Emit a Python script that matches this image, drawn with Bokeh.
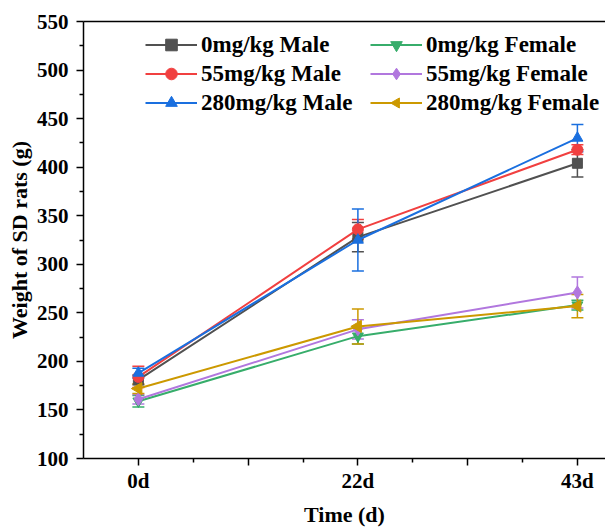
import math
from bokeh.plotting import figure
from bokeh.models import (Range1d, FixedTicker, LinearAxis, Legend, LegendItem,
                          Whisker, ColumnDataSource, TeeHead)
from bokeh.embed import file_html
from bokeh.resources import INLINE

# ---- data ----
day_pos = [1, 2, 3]
day_labels = ["0d", "22d", "43d"]

names = ["0mg/kg Male", "55mg/kg Male", "280mg/kg Male",
         "0mg/kg Female", "55mg/kg Female", "280mg/kg Female"]

male_0 = [181, 328, 404]
male_0_err = [5, 15, 14]
male_55 = [184, 336, 418]
male_55_err = [11, 10, 5]
male_280 = [188, 325, 430]
male_280_err = [5, 32, 14]
female_0 = [159, 226, 258]
female_0_err = [6, 8, 5]
female_55 = [161, 233, 271]
female_55_err = [5, 10, 16]
female_280 = [172, 236, 257]
female_280_err = [5, 18, 12]

values = [male_0, male_55, male_280, female_0, female_55, female_280]
errors = [male_0_err, male_55_err, male_280_err, female_0_err, female_55_err, female_280_err]

colors = ["#515151", "#F14040", "#1A6FDF", "#37AD6B", "#B177DE", "#CC9900"]
markers = ["square", "circle", "triangle", "inverted_triangle", "diamond", "left_triangle"]
sizes = [10, 11, 11, 11, 13, 11]

FONT = "Liberation Serif"

p = figure(width=605, height=529, output_backend="svg", toolbar_location=None,
           x_range=Range1d(0.75, 3.128), y_range=Range1d(100, 550),
           min_border_left=83, min_border_right=0, min_border_top=21,
           min_border_bottom=69)
p.outline_line_color = None
p.xgrid.visible = False
p.ygrid.visible = False
p.background_fill_color = "white"

# axes styling
xa = p.xaxis[0]
xa.ticker = FixedTicker(ticks=[1, 1.5, 2, 2.5, 3], minor_ticks=[1.25, 1.75, 2.25, 2.75])
xa.major_label_overrides = {1: day_labels[0], 1.5: "", 2: day_labels[1], 2.5: "", 3: day_labels[2]}
xa.axis_label = "Time (d)"

ya = p.yaxis[0]
ya.ticker = FixedTicker(ticks=list(range(100, 551, 50)), minor_ticks=list(range(125, 550, 50)))
ya.axis_label = "Weight of SD rats (g)"

for ax in (xa, ya):
    ax.axis_line_width = 1.5
    ax.axis_line_color = "black"
    ax.major_tick_line_width = 1.5
    ax.minor_tick_line_width = 1.5
    ax.major_tick_line_color = "black"
    ax.minor_tick_line_color = "black"
    ax.major_tick_in = 0
    ax.major_tick_out = 7
    ax.minor_tick_in = 0
    ax.minor_tick_out = 4
    ax.major_label_text_font = FONT
    ax.major_label_text_font_style = "bold"
    ax.major_label_text_font_size = "21px"
    ax.major_label_text_color = "black"
    ax.axis_label_text_font = FONT
    ax.axis_label_text_font_style = "bold"
    ax.axis_label_text_font_size = "22px"
    ax.axis_label_text_color = "black"
xa.major_label_standoff = 3
xa.axis_label_standoff = 6
ya.major_label_standoff = 8
ya.axis_label_standoff = 2

top = LinearAxis(ticker=FixedTicker(ticks=[]), axis_line_width=1.5, axis_line_color="black",
                 major_label_text_font_size="0px")
p.add_layout(top, "above")

items_left = []
items_right = []
for i in range(6):
    vals = values[i]
    errs = errors[i]
    src = ColumnDataSource(dict(x=day_pos, y=vals,
                                lo=[v - e for v, e in zip(vals, errs)],
                                hi=[v + e for v, e in zip(vals, errs)]))
    w = Whisker(source=src, base="x", lower="lo", upper="hi", dimension="height",
                line_color=colors[i], line_width=1.5,
                upper_head=TeeHead(size=12, line_color=colors[i], line_width=1.5),
                lower_head=TeeHead(size=12, line_color=colors[i], line_width=1.5))
    p.add_layout(w)
    lr = p.line("x", "y", source=src, line_color=colors[i], line_width=2)
    if markers[i] == "left_triangle":
        try:
            sr = p.ngon("x", "y", source=src, radius=7, radius_units="screen", n=3,
                        angle=math.pi / 2, fill_color=colors[i], line_color=colors[i])
        except Exception:
            sr = p.scatter("x", "y", source=src, marker="triangle",
                           size=sizes[i], fill_color=colors[i], line_color=colors[i])
    else:
        sr = p.scatter("x", "y", source=src, marker=markers[i],
                       size=sizes[i], fill_color=colors[i], line_color=colors[i])
    item = LegendItem(label=names[i], renderers=[lr, sr])
    (items_left if i < 3 else items_right).append(item)

for items, loc in ((items_left, (62, 341)), (items_right, (287, 341))):
    lg = Legend(items=items, location=loc, border_line_color=None,
                background_fill_alpha=0, padding=0, margin=0, spacing=0,
                glyph_width=52, glyph_height=29, label_height=29,
                label_standoff=4,
                label_text_font=FONT, label_text_font_style="bold",
                label_text_font_size="23px", label_text_color="black")
    p.add_layout(lg, "center")

open("out.html", "w").write(file_html(p, INLINE))
